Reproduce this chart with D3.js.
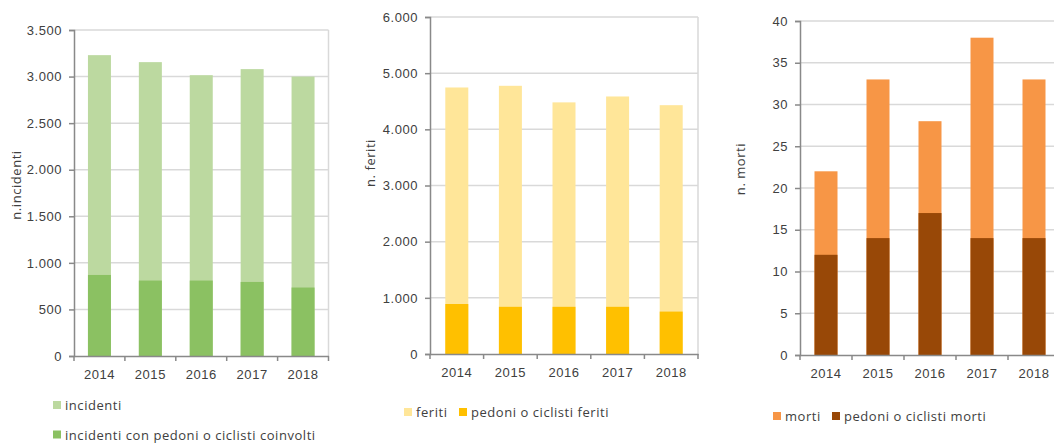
<!DOCTYPE html>
<html>
<head>
<meta charset="utf-8">
<script src="https://cdn.jsdelivr.net/npm/d3@7"></script>
<style>
body { margin: 0; background: #fff; }
svg { display: block; font-family: "Open Sans", sans-serif; letter-spacing: 0.55px; }
</style>
</head>
<body>
<script>
var years = ["2014", "2015", "2016", "2017", "2018"]

var incidenti = [3230, 3155, 3015, 3080, 3000]
var incidentiPedCic = [870, 810, 810, 795, 735]
var feriti = [4745, 4775, 4480, 4585, 4430]
var feritiPedCic = [890, 840, 840, 840, 755]
var morti = [22, 33, 28, 38, 33]
var mortiPedCic = [12, 14, 17, 14, 14]

var incTicks = [0, 500, 1000, 1500, 2000, 2500, 3000, 3500]
var ferTicks = [0, 1000, 2000, 3000, 4000, 5000, 6000]
var morTicks = [0, 5, 10, 15, 20, 25, 30, 35, 40]

const width = 1054
const height = 443
const textColor = "#404040"

var it = d3.formatLocale({ decimal: ",", thousands: ".", grouping: [3], currency: ["€", ""] })
var fmt = it.format(",d")

var svg = d3.select("body").append("svg").attr("width", width).attr("height", height)

var panels = [
    {
        x0: 74, x1: 328.5, yTop: 30, yBot: 356, ticks: incTicks,
        total: incidenti, part: incidentiPedCic,
        colTotal: "#bcd9a0", colPart: "#8bc162",
        title: "n.incidenti", titleX: 20.5, titleY: 185,
        legend: [
            { label: "incidenti", col: "#bcd9a0", x: 53, y: 410 },
            { label: "incidenti con pedoni o ciclisti coinvolti", col: "#8bc162", x: 53, y: 439.5 }
        ]
    },
    {
        x0: 430, x1: 698, yTop: 17, yBot: 354, ticks: ferTicks,
        total: feriti, part: feritiPedCic,
        colTotal: "#ffe699", colPart: "#ffc000",
        title: "n. feriti", titleX: 375, titleY: 163,
        legend: [
            { label: "feriti", col: "#ffe699", x: 404, y: 417 },
            { label: "pedoni o ciclisti feriti", col: "#ffc000", x: 459, y: 417 }
        ]
    },
    {
        x0: 800, x1: 1060, yTop: 21, yBot: 355, ticks: morTicks,
        total: morti, part: mortiPedCic,
        colTotal: "#f79646", colPart: "#984807",
        title: "n. morti", titleX: 745, titleY: 169,
        legend: [
            { label: "morti", col: "#f79646", x: 773, y: 421 },
            { label: "pedoni o ciclisti morti", col: "#984807", x: 832, y: 421 }
        ]
    }
]

panels.forEach(function (p) {
    var g = svg.append("g")
    var step = (p.x1 - p.x0) / years.length
    var pad = 1 - 23 / step

    var xScale = d3.scaleBand().domain(years).range([p.x0, p.x1]).paddingInner(pad).paddingOuter(pad / 2)
    var yScale = d3.scaleLinear().domain([0, d3.max(p.ticks)]).range([p.yBot, p.yTop])

    // gridlines
    g.selectAll(".grid").data(p.ticks.filter((d) => d > 0)).enter()
        .append("line")
        .attr("x1", p.x0).attr("x2", p.x1)
        .attr("y1", (d) => yScale(d)).attr("y2", (d) => yScale(d))
        .attr("stroke", "#d9d9d9").attr("stroke-width", 1.5)

    // right border
    g.append("line")
        .attr("x1", p.x1).attr("x2", p.x1)
        .attr("y1", p.yTop).attr("y2", p.yBot)
        .attr("stroke", "#d9d9d9").attr("stroke-width", 1.5)

    // bars: total behind, subset in front
    g.selectAll(".tot").data(p.total).enter()
        .append("rect")
        .attr("x", (d, i) => xScale(years[i]))
        .attr("width", xScale.bandwidth())
        .attr("y", (d) => yScale(d))
        .attr("height", (d) => yScale(0) - yScale(d))
        .attr("fill", p.colTotal)

    g.selectAll(".part").data(p.part).enter()
        .append("rect")
        .attr("x", (d, i) => xScale(years[i]))
        .attr("width", xScale.bandwidth())
        .attr("y", (d) => yScale(d))
        .attr("height", (d) => yScale(0) - yScale(d))
        .attr("fill", p.colPart)

    // y axis
    var yAxis = g.append("g")
        .attr("transform", "translate(" + p.x0 + ",0)")
        .call(d3.axisLeft(yScale).tickValues(p.ticks).tickSize(5).tickPadding(7).tickFormat(fmt))
    yAxis.select(".domain").attr("stroke", "#898989").attr("stroke-width", 1.5)
    yAxis.selectAll(".tick line").attr("stroke", "#898989").attr("stroke-width", 1.5)
    yAxis.selectAll("text").attr("fill", textColor).style("font-size", "13px")

    // x axis
    var xAxis = g.append("g")
        .attr("transform", "translate(0," + p.yBot + ")")
        .call(d3.axisBottom(xScale).tickSize(0).tickPadding(14))
    xAxis.select(".domain").attr("stroke", "#898989").attr("stroke-width", 1.5)
    xAxis.selectAll("text").attr("fill", textColor).style("font-size", "13px")

    var bounds = d3.range(years.length + 1).map((i) => p.x0 + i * step)
    g.selectAll(".xt").data(bounds).enter()
        .append("line")
        .attr("x1", (d) => d).attr("x2", (d) => d)
        .attr("y1", p.yBot).attr("y2", p.yBot + 5)
        .attr("stroke", "#898989").attr("stroke-width", 1.5)

    // axis title
    g.append("text")
        .attr("transform", "translate(" + p.titleX + "," + p.titleY + ") rotate(-90)")
        .attr("text-anchor", "middle")
        .attr("fill", textColor)
        .style("font-size", "13px")
        .text(p.title)

    // legend
    p.legend.forEach(function (l) {
        g.append("rect").attr("x", l.x).attr("y", l.y - 9).attr("width", 8).attr("height", 8).attr("fill", l.col)
        g.append("text").attr("x", l.x + 12).attr("y", l.y)
            .attr("fill", textColor).style("font-size", "13px").text(l.label)
    })
})
</script>
</body>
</html>
